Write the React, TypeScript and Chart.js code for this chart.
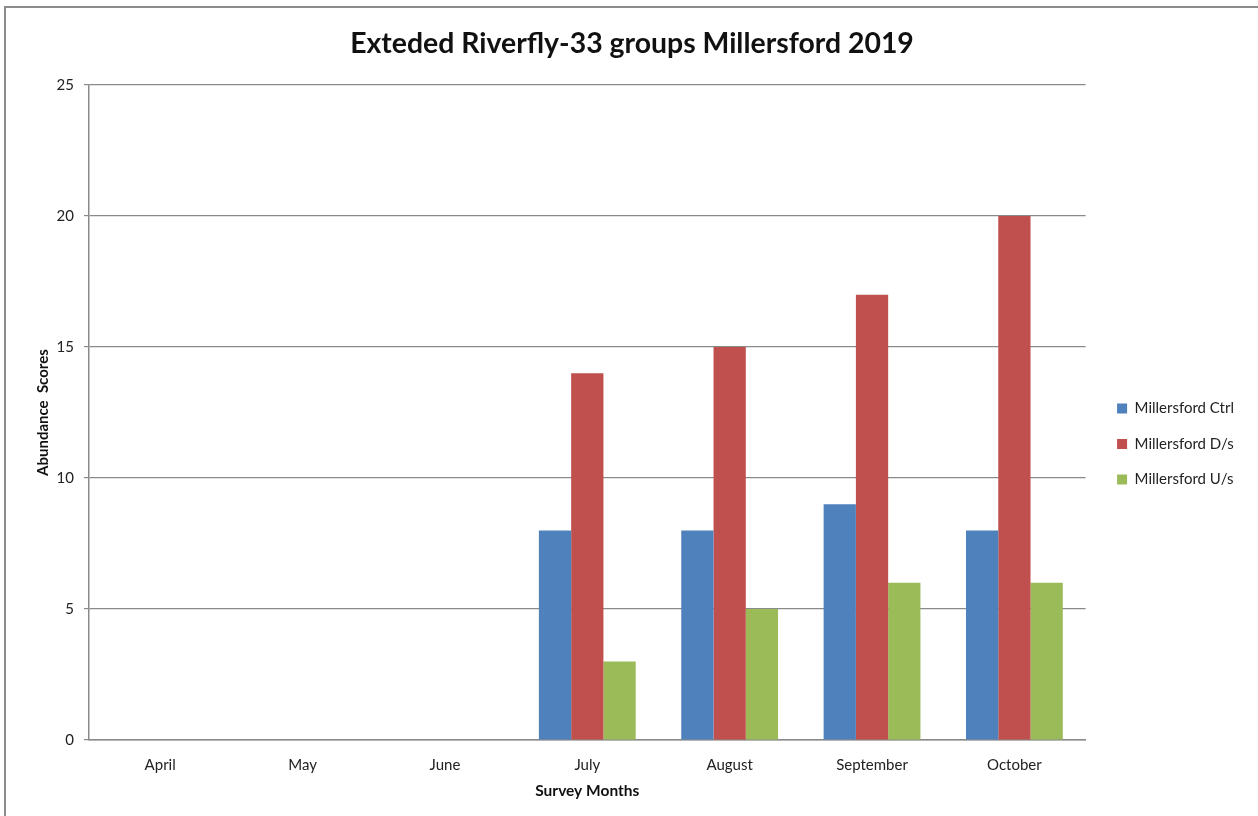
import React, { useEffect, useRef } from "react";
import { Chart, registerables } from "chart.js";

Chart.register(...registerables);

const months = ["April", "May", "June", "July", "August", "September", "October"];
const ctrlScores = [null, null, null, 8, 8, 9, 8];
const downstreamScores = [null, null, null, 14, 15, 17, 20];
const upstreamScores = [null, null, null, 3, 5, 6, 6];
const seriesNames = ["Millersford Ctrl", "Millersford D/s", "Millersford U/s"];

const FONT = "Lato, 'Open Sans', sans-serif";
const GRID = "#8a8a8a";

// Thin grey frame along the left and top edges of the canvas
const framePlugin = {
  id: "frame",
  beforeDraw(chart: any) {
    const { ctx, width, height } = chart;
    ctx.save();
    ctx.strokeStyle = "#8c8c8c";
    ctx.lineWidth = 2;
    ctx.beginPath();
    ctx.moveTo(5, height);
    ctx.lineTo(5, 7);
    ctx.lineTo(width, 7);
    ctx.stroke();
    ctx.restore();
  },
};

export default function App() {
  const canvasRef = useRef<HTMLCanvasElement>(null);

  useEffect(() => {
    if (!canvasRef.current) return;
    const chart = new Chart(canvasRef.current, {
      type: "bar",
      data: {
        labels: months,
        datasets: [
          { label: seriesNames[0], data: ctrlScores, backgroundColor: "#4F81BD" },
          { label: seriesNames[1], data: downstreamScores, backgroundColor: "#C0504D" },
          { label: seriesNames[2], data: upstreamScores, backgroundColor: "#9BBB59" },
        ],
      },
      options: {
        responsive: false,
        animation: false,
        layout: { padding: { top: 0, left: 20, bottom: 0, right: 14 } },
        datasets: {
          bar: { categoryPercentage: 0.68, barPercentage: 1 },
        },
        plugins: {
          title: {
            display: true,
            text: "Exteded Riverfly-33 groups Millersford 2019",
            color: "#111",
            font: { family: FONT, size: 28.4, weight: "bold" },
            padding: { top: 27, bottom: 24 },
          },
          legend: {
            position: "right",
            title: {
              display: true,
              text: " ",
              font: { family: FONT, size: 15 },
              padding: { top: 27, bottom: 27 },
            },
            labels: {
              boxWidth: 10,
              boxHeight: 10,
              color: "#222",
              padding: 20.5,
              font: { family: FONT, size: 15 },
            },
          },
          tooltip: { enabled: false },
        },
        scales: {
          x: {
            grid: { display: true, drawOnChartArea: false, drawTicks: false },
            border: { display: true, color: GRID, width: 1.5 },
            ticks: { color: "#222", padding: 16, font: { family: FONT, size: 15 } },
            title: {
              display: true,
              text: "Survey Months",
              color: "#111",
              font: { family: FONT, size: 15.5, weight: "bold" },
              padding: { top: 0, bottom: 16 },
            },
            afterFit(scale: any) {
              scale.height = 76;
            },
          },
          y: {
            min: 0,
            max: 25,
            ticks: { stepSize: 5, color: "#222", padding: 10, font: { family: FONT, size: 15 } },
            grid: { color: GRID, lineWidth: 1.2, tickLength: 5 },
            border: { display: true, color: GRID, width: 1.5 },
            title: {
              display: true,
              text: "Abundance  Scores",
              color: "#111",
              font: { family: FONT, size: 15, weight: "bold" },
              padding: { top: 14, bottom: 0 },
            },
            afterFit(scale: any) {
              scale.width = 69;
            },
          },
          // Empty spacer axis between the plot and the legend
          spacer: {
            type: "linear",
            position: "right",
            display: true,
            grid: { display: false },
            border: { display: false },
            ticks: { display: false },
            afterFit(scale: any) {
              scale.width = 11;
            },
          },
        },
      },
      plugins: [framePlugin],
    });
    return () => chart.destroy();
  }, []);

  return (
    <div style={{ position: "fixed", left: 0, top: 0, width: 1258, height: 816, background: "#fff" }}>
      <canvas ref={canvasRef} width={1258} height={816} />
    </div>
  );
}
